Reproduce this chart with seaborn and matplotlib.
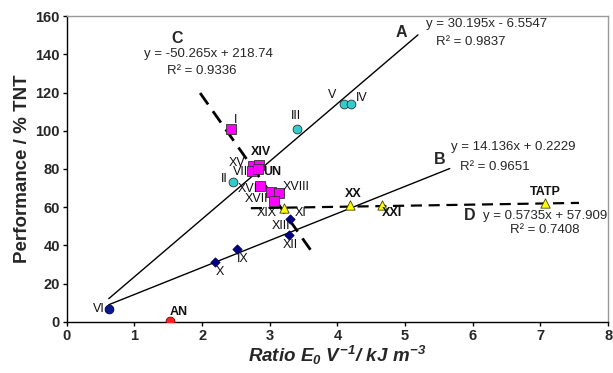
import matplotlib
matplotlib.use("Agg")
import matplotlib.pyplot as plt
import seaborn as sns
import numpy as np
import pandas as pd

sns.set_theme(style="white")
plt.rcParams['font.family'] = ['Liberation Sans', 'DejaVu Sans']
plt.rcParams['mathtext.fontset'] = 'custom'
plt.rcParams['mathtext.rm'] = 'Liberation Sans:italic:bold'
plt.rcParams['mathtext.it'] = 'Liberation Sans:italic:bold'
plt.rcParams['mathtext.bf'] = 'Liberation Sans:italic:bold'

# ---- data ----
circ_names = ["II", "III", "V", "IV"]
circ_x = [2.45, 3.40, 4.10, 4.20]
circ_y = [73.0, 101.0, 114.0, 114.0]

sq_names = ["I", "XV", "XIV", "VII", "UN", "XVI", "XIX", "XVIII", "XVII"]
sq_x = [2.42, 2.75, 2.84, 2.74, 2.83, 2.86, 3.02, 3.14, 3.06]
sq_y = [101.0, 81.5, 82.0, 78.8, 80.0, 71.3, 67.8, 67.3, 63.1]

dia_names = ["X", "IX", "XII", "XIII"]
dia_x = [2.19, 2.52, 3.28, 3.30]
dia_y = [31.2, 38.0, 45.5, 54.0]

vi_x, vi_y = [0.62], [7.0]
an_x, an_y = [1.52], [0.5]

tri_names = ["XI", "XX", "XXI", "TATP"]
tri_x = [3.21, 4.19, 4.66, 7.07]
tri_y = [59.5, 61.0, 61.0, 62.0]

# trendlines: slope, intercept, x-range
fit_A = (30.195, -6.5547, 0.62, 5.19)
fit_B = (14.136, 0.2229, 0.62, 5.66)
fit_C = (-50.265, 218.74, 1.97, 3.66)
fit_D = (0.5735, 57.909, 2.72, 7.57)

# point labels: text, x, y
labels = [
    ("I", 2.49, 105.5), ("III", 3.39, 107.5), ("V", 3.92, 118.5), ("IV", 4.36, 117.0),
    ("II", 2.32, 75.0), ("XIV", 2.87, 88.7), ("XV", 2.52, 83.0), ("VII", 2.57, 78.6),
    ("UN", 3.04, 78.6), ("XVI", 2.67, 69.3), ("XVIII", 3.39, 70.4), ("XVII", 2.81, 64.3),
    ("XIX", 2.96, 57.0), ("XI", 3.46, 57.0), ("XIII", 3.16, 50.0), ("XII", 3.31, 40.0),
    ("IX", 2.60, 32.7), ("X", 2.26, 26.0), ("VI", 0.48, 7.0), ("AN", 1.66, 5.3),
    ("XX", 4.23, 66.7), ("XXI", 4.80, 57.0), ("TATP", 7.07, 68.2),
]

fig = plt.figure(figsize=(6.13, 3.73), dpi=100)
ax = fig.add_axes([0.109, 0.137, 0.883, 0.820])

def fitline(fit, dashed, lw):
    m, c, x0, x1 = fit
    xs = np.array([x0, x1])
    df = pd.DataFrame({"x": xs, "y": m * xs + c})
    sns.lineplot(data=df, x="x", y="y", ax=ax, color="black", lw=lw,
                 linestyle=(0, (5, 3)) if dashed else "-", zorder=2)

fitline(fit_A, False, 1.0)
fitline(fit_B, False, 1.0)
fitline(fit_C, True, 2.0)
fitline(fit_D, True, 1.6)

def pts(xs, ys, marker, color, size, ec="#333333"):
    sns.scatterplot(x=xs, y=ys, ax=ax, marker=marker, color=color, s=size,
                    edgecolor=ec, linewidth=0.6, zorder=3)

pts(circ_x, circ_y, "o", "#33CCCC", 40)
pts(sq_x, sq_y, "s", "#FF00FF", 45)
pts(dia_x, dia_y, "D", "#000080", 22, ec="#000060")
pts(vi_x, vi_y, "o", "#0A1A8A", 40, ec="#000060")
pts(an_x, an_y, "o", "#FF2020", 40, ec="#800000")
pts(tri_x, tri_y, "^", "#FFFF00", 45, ec="#444400")

bold_labels = ("AN", "XX", "XXI", "TATP", "UN", "XIV")
for t, x, y in labels:
    ax.text(x, y, t, fontsize=9, ha="center", va="center",
            fontweight="bold" if t in bold_labels else "normal",
            color="#111111", zorder=4)

# equation annotations
EQ = 9.5
ax.text(4.95, 151.5, "A", fontsize=11.5, fontweight="bold", ha="center", va="center")
ax.text(6.21, 155.8, "y = 30.195x - 6.5547", fontsize=EQ, ha="center", va="center")
ax.text(5.97, 146.4, "R² = 0.9837", fontsize=EQ, ha="center", va="center")

ax.text(1.63, 148.3, "C", fontsize=11.5, fontweight="bold", ha="center", va="center")
ax.text(2.09, 140.0, "y = -50.265x + 218.74", fontsize=EQ, ha="center", va="center")
ax.text(1.99, 131.2, "R² = 0.9336", fontsize=EQ, ha="center", va="center")

ax.text(5.51, 85.0, "B", fontsize=11.5, fontweight="bold", ha="center", va="center")
ax.text(6.60, 91.7, "y = 14.136x + 0.2229", fontsize=EQ, ha="center", va="center")
ax.text(6.32, 80.9, "R² = 0.9651", fontsize=EQ, ha="center", va="center")

ax.text(5.96, 55.4, "D", fontsize=11.5, fontweight="bold", ha="center", va="center")
ax.text(7.07, 55.4, "y = 0.5735x + 57.909", fontsize=EQ, ha="center", va="center")
ax.text(7.07, 48.1, "R² = 0.7408", fontsize=EQ, ha="center", va="center")

ax.set_xlim(0, 8)
ax.set_ylim(0, 160)
ax.set_xticks(range(0, 9))
ax.set_yticks(range(0, 161, 20))
ax.tick_params(axis="both", which="both", direction="out", length=3, width=1,
               labelsize=10.5, color="black", pad=2)
ax.tick_params(left=True, bottom=True)
for lab in ax.get_xticklabels() + ax.get_yticklabels():
    lab.set_fontweight("bold")

for s in ("left", "bottom"):
    ax.spines[s].set_color("black")
    ax.spines[s].set_linewidth(1.0)
for s in ("top", "right"):
    ax.spines[s].set_color("#999999")
    ax.spines[s].set_linewidth(1.0)

ax.set_xlabel(r"Ratio $E_0\ V^{-1}/\ kJ\ m^{-3}$", fontsize=13.5, fontweight="bold",
              fontstyle="italic", labelpad=1)
ax.set_ylabel("Performance / % TNT", fontsize=13.5, fontweight="bold", labelpad=3)

fig.savefig("out.png", dpi=100)
